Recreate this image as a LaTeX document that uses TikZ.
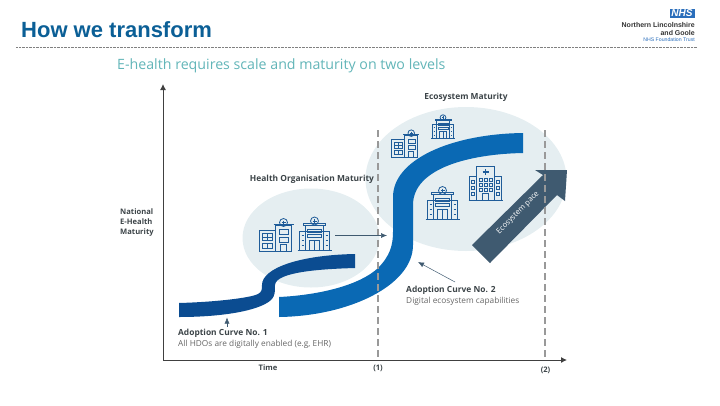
\documentclass[tikz,border=0pt]{standalone}
\usepackage{fontspec}
\setmainfont{Open Sans}
\newfontfamily\titlefont{Liberation Sans}
\usetikzlibrary{arrows.meta,shapes.geometric}
\definecolor{titleblue}{HTML}{0B5F96}
\definecolor{subteal}{HTML}{62B5B8}
\definecolor{curvedark}{HTML}{0B4C91}
\definecolor{curvelight}{HTML}{0A69B4}
\definecolor{blobgrey}{HTML}{E5EEF1}
\definecolor{paceslate}{HTML}{3F5A70}
\definecolor{iconblue}{HTML}{1F5C99}
\definecolor{nhsblue}{HTML}{2A6EBB}
\definecolor{labelgrey}{HTML}{3C4448}
\tikzset{
    icon/.style={draw=iconblue, line width=0.8pt, fill=none},
    pics/hospwide/.style={code={
        \draw[icon] (-17,16) -- (17,16);
        \draw[icon] (-15,16) -- (-15,-3) -- (15,-3) -- (15,16);
        \draw[icon] (-9,16) -- (-9,-9) -- (9,-9) -- (9,16);
        \draw[icon] (-11,-9) -- (-11,-11) -- (11,-11) -- (11,-9) -- cycle;
        \draw[icon] (-7,-5) rectangle (7,-2) (-7,0) rectangle (7,3);
        \draw[icon] (-5,16) rectangle (5,6) (0,6) -- (0,16);
        \draw[icon] (0,-13) circle (4);
        \draw[icon] (-2,-13) -- (2,-13) (0,-15) -- (0,-11);
        \foreach \wy in {1,6,11} {
            \draw[icon] (-13,\wy) -- (-11,\wy) (11,\wy) -- (13,\wy);
        }
    }},
    pics/hosptall/.style={code={
        \draw[icon] (-17,-4) rectangle (-1,17);
        \draw[icon] (-1,-9) rectangle (15,17);
        \draw[icon] (-3,-10) -- (17,-10);
        \draw[icon] (7,-12) circle (4);
        \draw[icon] (5,-12) -- (9,-12) (7,-14) -- (7,-10);
        \draw[icon] (3,-5) rectangle (12,0) (3,3) rectangle (12,8);
        \draw[icon] (4,17) rectangle (10,10);
        \draw[icon] (-14,-1) rectangle (-4,6) (-14,2.5) -- (-4,2.5) (-9,-1) -- (-9,6);
        \draw[icon] (-14,9) rectangle (-4,14) (-9,9) -- (-9,14);
    }},
    pics/hospcross/.style={code={
        \draw[icon] (-17,17) -- (17,17);
        \draw[icon] (-16,17) -- (-16,-7) -- (-9,-7) (16,17) -- (16,-7) -- (9,-7);
        \draw[icon] (-9,17) -- (-9,-17) -- (9,-17) -- (9,17);
        \draw[icon, line width=1.4pt] (-3,-11.5) -- (3,-11.5) (0,-14.5) -- (0,-8.5);
        \foreach \wx in {-6,-1,4} {
            \foreach \wy in {-5,0,5} {
                \draw[icon] (\wx,\wy) rectangle +(2.5,2.5);
            }
        }
        \draw[icon] (-3,17) rectangle (3,10);
        \foreach \wy in {-3,3,9} {
            \draw[icon] (-14,\wy) rectangle +(3,3);
            \draw[icon] (11,\wy) rectangle +(3,3);
        }
    }}
}
\begin{document}
\begin{tikzpicture}[
    x=1pt, y=-1pt,
    axisline/.style={draw=black!75, line width=0.9pt, -{Latex[length=6pt,width=6pt]}},
    guide/.style={draw=black!40, line width=1.2pt, dash pattern=on 7pt off 4pt},
    pointer/.style={draw=paceslate, line width=0.5pt, -{Latex[length=6pt,width=5pt]}},
    boldlabel/.style={font=\fontsize{8.4}{10}\selectfont\bfseries, text=labelgrey, inner sep=0pt},
    sublabel/.style={font=\fontsize{8.3}{10}\selectfont, text=black!60, inner sep=0pt},
    axislabel/.style={font=\fontsize{7.6}{10}\selectfont\bfseries, text=labelgrey, inner sep=0pt}
]
    \useasboundingbox (0,0) rectangle (720,405);

    % header
    \node[anchor=base west, inner sep=0pt, text=titleblue, font=\titlefont\fontsize{22}{24}\selectfont\bfseries] (title) at (21,37) {How we transform};
    \coordinate (ruleleft) at (16,47);
    \coordinate (ruleright) at (697,47);
    \draw[black!50, line width=0.7pt, dash pattern=on 0.7pt off 0.7pt] (ruleleft) -- (ruleright);
    \node[fill=nhsblue, minimum width=25pt, minimum height=9pt, inner sep=0pt, text=white, font=\titlefont\fontsize{10}{9}\selectfont\bfseries\itshape] (nhs) at (682,13.5) {NHS};
    \node[anchor=east, inner sep=0pt, font=\titlefont\fontsize{7}{8}\selectfont\bfseries, text=black!80] (trust1) at (695,25) {Northern Lincolnshire};
    \node[anchor=east, inner sep=0pt, font=\titlefont\fontsize{7}{8}\selectfont\bfseries, text=black!80] (trust2) at (695,32.5) {and Goole};
    \node[anchor=east, inner sep=0pt, font=\titlefont\fontsize{5.2}{8}\selectfont, text=nhsblue] (trust3) at (695,40) {NHS Foundation Trust};
    \node[anchor=west, inner sep=0pt, text=subteal, font=\fontsize{14.2}{16}\selectfont] (subtitle) at (117,66) {E-health requires scale and maturity on two levels};

    % blobs and curves
    \node[ellipse, fill=blobgrey, minimum width=137pt, minimum height=99pt, inner sep=0pt] (orgblob) at (311,238) {};
    \node[ellipse, fill=blobgrey, minimum width=201pt, minimum height=144pt, inner sep=0pt] (ecoblob) at (466,179) {};
    \fill[curvedark] (179,303) .. controls (215,302) and (250,298) .. (258,294) .. controls (262,292) and (262,289) .. (262,285) .. controls (262,268) and (300,255) .. (355,254) -- (355,268) .. controls (320,269) and (276,272) .. (275,285) .. controls (275,292) and (275,295) .. (272,299) .. controls (262,310) and (225,317) .. (179,317) -- cycle;
    \fill[curvelight] (279,297) .. controls (320,295) and (360,285) .. (378,268) .. controls (390,256) and (393,245) .. (393,232) -- (393,197) .. controls (393,160) and (450,134) .. (523,133) -- (523,153) .. controls (470,154) and (413,168) .. (413,205) -- (413,245) .. controls (413,285) and (350,316) .. (279,317) -- cycle;

    % pace arrow
    \fill[paceslate] (472,245) -- (543,175) -- (535,170) -- (567,170) -- (565,201) -- (557,195) -- (490,263) -- cycle;
    \node[rotate=45, inner sep=0pt, text=white, font=\fontsize{7.6}{10}\selectfont] (pace) at (518,213) {Ecosystem pace};

    % buildings
    \pic at (276.5,234.5) {hosptall};
    \pic at (314.5,234) {hospwide};
    \pic[scale=0.82] at (405.5,143) {hosptall};
    \pic[scale=0.72] at (443,127) {hospwide};
    \pic at (485.5,183.5) {hospcross};
    \pic at (442.5,203.5) {hospwide};

    % axes
    \coordinate (origin) at (163,360);
    \coordinate (ytop) at (163,84);
    \coordinate (xend) at (567,360);
    \draw[axisline] (origin) -- (ytop);
    \draw[axisline] (origin) -- (xend);
    \coordinate (guideonetop) at (378,130);
    \coordinate (guideonebot) at (378,358);
    \coordinate (guidetwotop) at (545,130);
    \coordinate (guidetwobot) at (545,358);
    \draw[guide] (guideonetop) -- (guideonebot);
    \draw[guide] (guidetwotop) -- (guidetwobot);

    % labels
    \node[boldlabel] (ecolabel) at (466,97) {Ecosystem Maturity};
    \node[boldlabel] (orglabel) at (312,179) {Health Organisation Maturity};
    \node[anchor=west, align=left, inner sep=0pt, text=labelgrey, font=\fontsize{7.6}{10}\selectfont\bfseries] (ylabel) at (120,223) {National\\E-Health\\Maturity};
    \node[boldlabel, anchor=west] (curveone) at (178,333.5) {Adoption Curve No. 1};
    \node[sublabel, anchor=west] (curveonesub) at (178,344.5) {All HDOs are digitally enabled (e.g, EHR)};
    \node[boldlabel, anchor=west] (curvetwo) at (406,290) {Adoption Curve No. 2};
    \node[sublabel, anchor=west] (curvetwosub) at (406,301) {Digital ecosystem capabilities};
    \node[axislabel] (timelabel) at (268,368) {Time};
    \node[axislabel] (markone) at (378,368) {(1)};
    \node[axislabel] (marktwo) at (545.5,370) {(2)};

    % pointers
    \coordinate (orgstart) at (335,235.5);
    \coordinate (orgend) at (387,235.5);
    \coordinate (onestart) at (227,327);
    \coordinate (oneend) at (227,317.5);
    \coordinate (twostart) at (455,282);
    \coordinate (twoend) at (418,262);
    \draw[pointer] (orgstart) -- (orgend);
    \draw[pointer] (onestart) -- (oneend);
    \draw[pointer] (twostart) -- (twoend);
\end{tikzpicture}
\end{document}
